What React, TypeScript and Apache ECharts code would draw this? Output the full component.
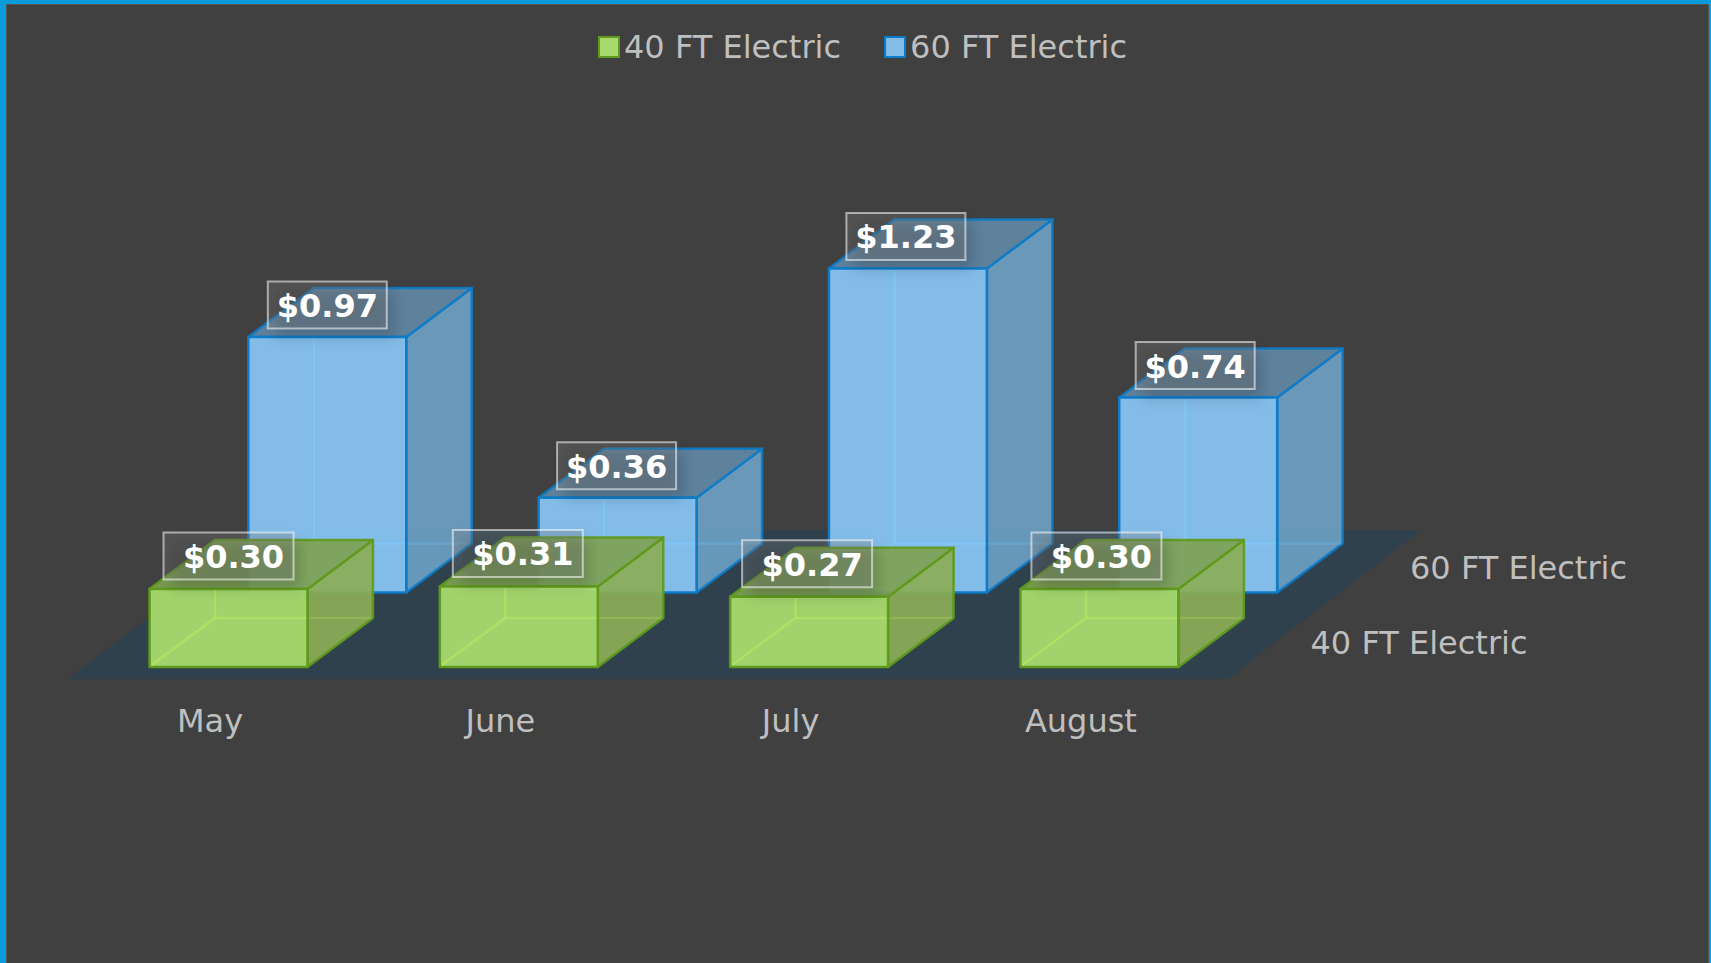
import React, { useEffect, useRef } from "react";
import * as echarts from "echarts";

const months = ["May", "June", "July", "August"];
const frontName = "40 FT Electric";
const backName = "60 FT Electric";
const frontValues = [0.3, 0.31, 0.27, 0.3];
const backValues = [0.97, 0.36, 1.23, 0.74];

const W = 1711;
const H = 963;
const DX = 65.5;
const DY = 49;
const BAR_RATIO = 0.544;
const FONT = '"DejaVu Sans", Verdana, sans-serif';

type Palette = { front: string; side: string; top: string; edge: string; inner: string; innerSide: string; alpha: number };
const green: Palette = { front: "#a7d96c", side: "#8cae56", top: "#7fa254", edge: "#5f9a1c", inner: "rgba(190,235,100,0.5)", innerSide: "rgba(190,235,100,0.22)", alpha: 0.92 };
const blue: Palette = { front: "#85c2ee", side: "#6ea4ca", top: "#628aa9", edge: "#0b7bc8", inner: "rgba(125,205,255,0.5)", innerSide: "rgba(125,205,255,0.22)", alpha: 0.88 };

function boxRenderer(p: Palette, boxW: number, textDx: number, boxLift: number, textLift: number) {
  return (params: any, api: any) => {
    const idx = api.value(0);
    const val = api.value(1);
    const [cx, top] = api.coord([idx, val]);
    const [, base] = api.coord([idx, 0]);
    const w = api.size([1, 0])[0] * BAR_RATIO;
    const l = cx - w / 2;
    const r = cx + w / 2;
    const labelX = cx - idx;
    const edge = { stroke: p.edge, lineWidth: 2.5, lineJoin: "round" };
    const poly = (pts: number[][], fill: string, opacity: number) => ({
      type: "polygon",
      shape: { points: pts },
      style: { fill, opacity, ...edge },
    });
    const line = (x1: number, y1: number, x2: number, y2: number, stroke: string) => ({
      type: "line",
      shape: { x1, y1, x2, y2 },
      style: { stroke, lineWidth: 2.5 },
    });
    const boxRect = { x: labelX - boxW / 2, y: top - boxLift - 23.5, width: boxW, height: 47 };
    const children: any[] = [
      poly([[r, top], [r + DX, top - DY], [r + DX, base - DY], [r, base]], p.side, p.alpha),
      poly([[l, top], [l + DX, top - DY], [r + DX, top - DY], [r, top]], p.top, p.alpha),
      poly([[l, top], [r, top], [r, base], [l, base]], p.front, 0.96),
      line(l + DX, top + 1.5, l + DX, base - DY, p.inner),
      line(l + DX, base - DY, r - 1.5, base - DY, p.inner),
      line(r + 1.5, base - DY, r + DX - 1.5, base - DY, p.innerSide),
      line(l + 2, base - 2, l + DX, base - DY, p.inner),
      {
        type: "rect",
        shape: boxRect,
        style: {
          fill: "rgba(0,0,0,0.17)",
          shadowColor: "rgba(0,0,0,1)",
          shadowBlur: 14,
          shadowOffsetX: 7,
          shadowOffsetY: 9,
        },
      },
      {
        type: "rect",
        shape: boxRect,
        style: {
          fill: "rgba(255,255,255,0.15)",
          stroke: "rgba(255,255,255,0.55)",
          lineWidth: 2,
        },
      },
      {
        type: "text",
        style: {
          text: "$" + val.toFixed(2),
          x: labelX + textDx,
          y: top - textLift,
          fill: "#ffffff",
          font: `bold 32px ${FONT}`,
          align: "center",
          verticalAlign: "middle",
        },
      },
    ];
    return { type: "group", children };
  };
}

const bandW = 290.3;
const rows = 1.5;

export default function App() {
  const ref = useRef<HTMLDivElement>(null);
  useEffect(() => {
    document.body.style.margin = "0";
    const chart = echarts.init(ref.current!, null, { renderer: "svg" });
    const gridFor = (center: number, base: number, perUnit: number) => ({
      left: center - bandW / 2,
      width: bandW * months.length,
      top: base - perUnit * rows,
      height: perUnit * rows,
    });
    chart.setOption({
      animation: false,
      backgroundColor: "#404040",
      legend: {
        left: 593,
        top: 26,
        icon: "rect",
        itemWidth: 20,
        itemHeight: 20,
        itemGap: 43,
        selectedMode: false,
        textStyle: { color: "#bfbfbf", fontSize: 32, fontFamily: FONT },
        data: [frontName, backName],
      },
      grid: [gridFor(228.5, 667, 260), gridFor(327.3, 592.5, 263.5)],
      xAxis: [
        {
          gridIndex: 0,
          type: "category",
          data: months,
          axisLine: { show: false },
          axisTick: { show: false },
          axisLabel: {
            color: "#bfbfbf",
            fontSize: 32,
            fontFamily: FONT,
            margin: 38,
            padding: [0, 37, 0, 0],
          },
        },
        { gridIndex: 1, type: "category", data: months, show: false },
      ],
      yAxis: [
        { gridIndex: 0, type: "value", min: 0, max: rows, show: false },
        { gridIndex: 1, type: "value", min: 0, max: rows, show: false },
      ],
      series: [
        {
          type: "custom",
          name: backName,
          xAxisIndex: 1,
          yAxisIndex: 1,
          clip: false,
          z: 3,
          itemStyle: { color: "#82bde7", borderColor: blue.edge, borderWidth: 2.5 },
          encode: { x: 0, y: 1 },
          data: backValues.map((v, i) => [i, v]),
          renderItem: boxRenderer(blue, 119, 0, 32, 31),
        },
        {
          type: "custom",
          name: frontName,
          xAxisIndex: 0,
          yAxisIndex: 0,
          clip: false,
          z: 4,
          itemStyle: { color: "#a9d86e", borderColor: green.edge, borderWidth: 2.5 },
          encode: { x: 0, y: 1 },
          data: frontValues.map((v, i) => [i, v]),
          renderItem: boxRenderer(green, 130, 5, 33, 32),
        },
      ],
      graphic: [
        {
          type: "polygon",
          z: 0,
          shape: { points: [[67.6, 679.3], [1227.7, 679.3], [1420.7, 530], [260.6, 530]] },
          style: { fill: "#2f414d" },
        },
        { type: "rect", z: 0, shape: { x: 6, y: 4, width: W - 8, height: H }, style: { fill: "none", stroke: "#6a6a6a", lineWidth: 1 } },
        { type: "rect", z: 0, shape: { x: 0, y: 0, width: W, height: 4 }, style: { fill: "#0a9bdc" } },
        { type: "rect", z: 0, shape: { x: 0, y: 0, width: 6, height: H }, style: { fill: "#0a9bdc" } },
        { type: "rect", z: 0, shape: { x: W - 2, y: 0, width: 2, height: H }, style: { fill: "#0a9bdc" } },
        {
          type: "text",
          z: 5,
          x: 1410,
          y: 568,
          style: { text: backName, fill: "#bfbfbf", font: `32px ${FONT}`, verticalAlign: "middle" },
        },
        {
          type: "text",
          z: 5,
          x: 1310.5,
          y: 643,
          style: { text: frontName, fill: "#bfbfbf", font: `32px ${FONT}`, verticalAlign: "middle" },
        },
      ],
    });
    return () => chart.dispose();
  }, []);
  return <div ref={ref} style={{ width: W, height: H }} />;
}
